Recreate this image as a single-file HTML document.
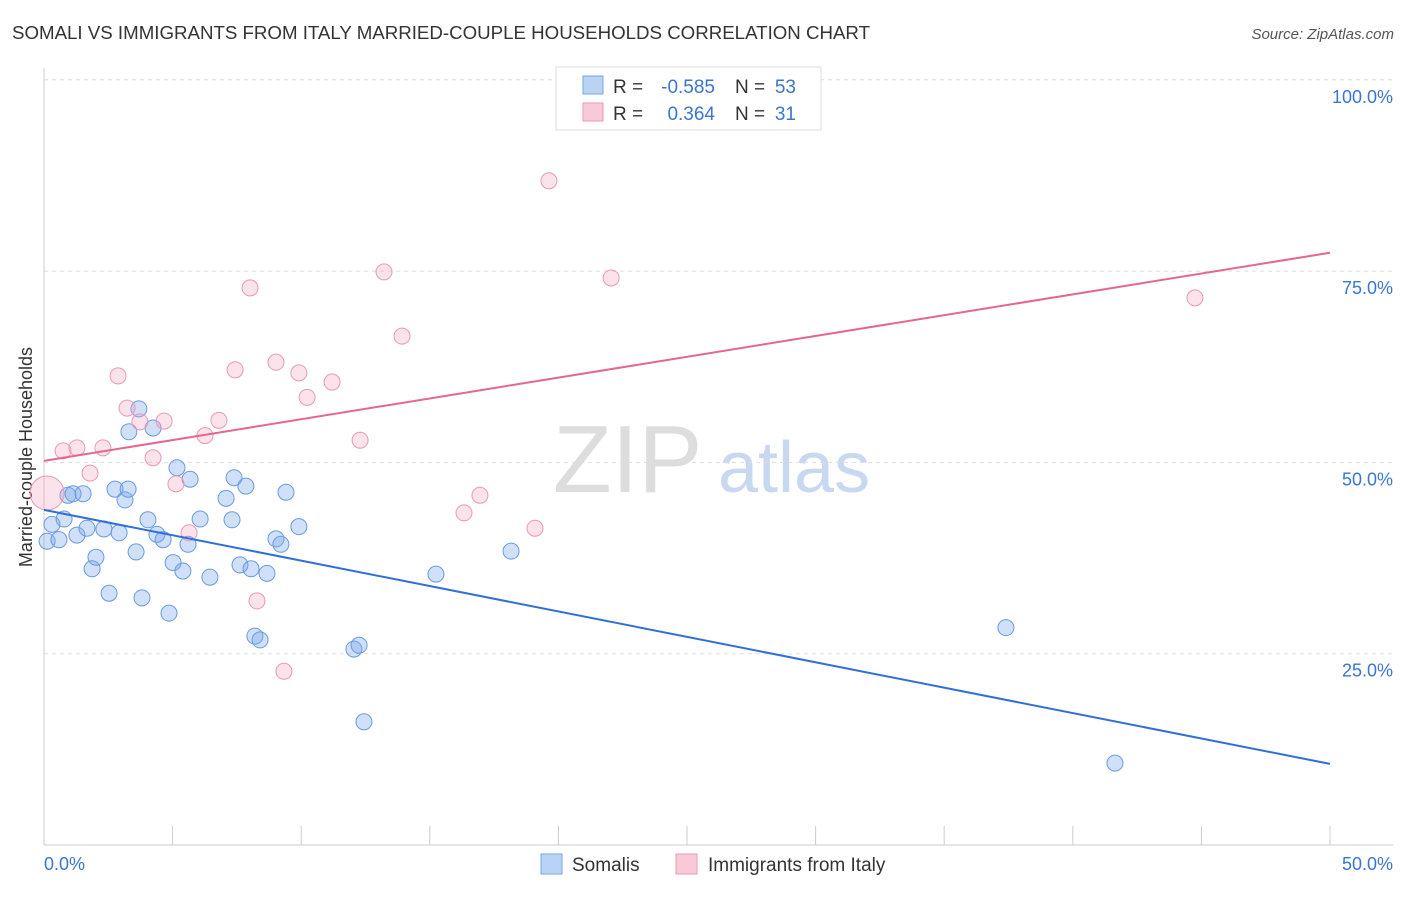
<!DOCTYPE html>
<html><head><meta charset="utf-8"><style>
body{margin:0;background:#fff;font-family:"Liberation Sans",sans-serif}
svg text{font-family:"Liberation Sans",sans-serif}
</style></head><body>
<svg id="c" width="1406" height="892">
<text x="12" y="39" font-size="18.7" fill="#333">SOMALI VS IMMIGRANTS FROM ITALY MARRIED-COUPLE HOUSEHOLDS CORRELATION CHART</text>
<text x="1394" y="39" font-size="15" fill="#555" text-anchor="end" font-style="italic">Source: ZipAtlas.com</text>
<text x="32" y="457" font-size="18" fill="#333" text-anchor="middle" transform="rotate(-90 32 457)">Married-couple Households</text>
<text x="553" y="492" font-size="96" fill="#ddd" font-family="Liberation Serif">ZIP</text>
<text x="718" y="492" font-size="72" fill="#c8d8f0">atlas</text>
<g id="grid"></g><g id="axes"></g><g id="pts"></g><g id="lines"></g>
<g>
<rect x="556" y="67" width="265" height="63" fill="#fff" stroke="#ddd"/>
<rect x="583" y="76" width="20" height="18" fill="#b9d3f5" stroke="#7aa6e0"/>
<rect x="583" y="103" width="20" height="18" fill="#f9c9d7" stroke="#e89ab4"/>
<text x="613" y="93" font-size="19" fill="#333">R =</text>
<text x="715" y="93" font-size="19" fill="#3a76d0" text-anchor="end">-0.585</text>
<text x="735" y="93" font-size="19" fill="#333">N =</text>
<text x="796" y="93" font-size="19" fill="#3a76d0" text-anchor="end">53</text>
<text x="613" y="120" font-size="19" fill="#333">R =</text>
<text x="715" y="120" font-size="19" fill="#3a76d0" text-anchor="end">0.364</text>
<text x="735" y="120" font-size="19" fill="#333">N =</text>
<text x="796" y="120" font-size="19" fill="#3a76d0" text-anchor="end">31</text>
</g>
<g>
<rect x="541" y="854" width="21" height="20" fill="#b9d3f5" stroke="#7aa6e0"/>
<text x="572" y="871" font-size="19" fill="#333">Somalis</text>
<rect x="676" y="854" width="21" height="20" fill="#f9c9d7" stroke="#e89ab4"/>
<text x="708" y="871" font-size="19" fill="#333">Immigrants from Italy</text>
</g>
</svg>
<script>
const yTicks=[25,50,75,100];
const yTickLabels=["25.0%","50.0%","75.0%","100.0%"];
const xTickVals=[0,5,10,15,20,25,30,35,40,45,50];
const blueX=[0.12,0.31,0.58,0.78,0.93,1.13,1.28,1.52,1.67,1.87,2.02,2.33,2.53,2.76,2.92,3.15,3.27,3.30,3.58,3.69,3.81,4.04,4.24,4.39,4.63,4.86,5.02,5.17,5.40,5.60,5.68,6.07,6.45,7.08,7.31,7.39,7.62,7.85,8.05,8.20,8.40,8.67,9.02,9.21,9.41,9.91,12.05,12.25,12.44,15.24,18.16,37.40,41.64];
const blueY=[39.7,41.9,39.9,42.6,45.7,45.9,40.5,45.9,41.4,36.1,37.6,41.3,32.9,46.5,40.8,45.1,46.5,54.0,38.3,57.0,32.3,42.5,54.5,40.6,39.9,30.3,36.9,49.3,35.8,39.3,47.8,42.6,35.0,45.3,42.5,48.0,36.6,46.9,36.1,27.3,26.8,35.5,40.0,39.3,46.1,41.6,25.6,26.1,16.1,35.4,38.4,28.4,10.7];
const pinkX=[0.12,0.74,1.28,1.79,2.29,2.88,3.23,3.73,4.24,4.67,5.13,5.64,6.26,6.80,7.43,8.01,8.28,9.02,9.33,9.91,10.23,11.20,12.29,13.22,13.92,16.33,16.95,19.09,19.63,22.05,44.75];
const pinkY=[46.0,51.5,51.9,48.6,51.9,61.3,57.1,55.3,50.6,55.4,47.2,40.8,53.5,55.5,62.1,72.8,31.9,63.1,22.7,61.7,58.5,60.5,52.9,74.9,66.5,43.4,45.7,41.4,86.8,74.1,71.5];
const blueTrend=[43.8,10.6];
const pinkTrend=[50.2,77.4];
const NS="http://www.w3.org/2000/svg";
const X=v=>44+v*25.72, Y=v=>845-v*7.652;
function mk(tag,attrs,parent){const e=document.createElementNS(NS,tag);for(const k in attrs)e.setAttribute(k,attrs[k]);document.getElementById(parent).appendChild(e);return e;}
yTicks.forEach((t,i)=>{
 const l=mk('line',{x1:44,x2:1393,y1:Y(t),y2:Y(t),stroke:'#ddd','stroke-dasharray':'4,4'},'grid');
 
 
 const tx=mk('text',{x:1393,y:Y(t)+23,'font-size':18,fill:'#3a76d0','text-anchor':'end'},'grid');
 tx.textContent=yTickLabels[i];
 
 
});
const ax=mk('line',{x1:44,x2:1393,y1:845,y2:845,stroke:'#ccc'},'axes');


const ay=mk('line',{x1:44,x2:44,y1:68,y2:845,stroke:'#ccc'},'axes');


xTickVals.forEach(t=>{
 const l=mk('line',{x1:X(t),x2:X(t),y1:826,y2:845,stroke:'#ccc'},'axes');
 
 
});
const xl0=mk('text',{x:44,y:870,'font-size':18,fill:'#3a76d0'},'axes');xl0.textContent='0.0%';


const xl1=mk('text',{x:1393,y:870,'font-size':18,fill:'#3a76d0','text-anchor':'end'},'axes');xl1.textContent='50.0%';


blueX.forEach((v,i)=>{
 const c=mk('circle',{cx:X(v),cy:Y(blueY[i]),r:8,fill:'rgba(120,165,235,0.35)',stroke:'#6a9be0','stroke-width':1},'pts');
 
 
});
pinkX.forEach((v,i)=>{
 const c=mk('circle',{cx:X(v),cy:Y(pinkY[i]),r:i===0?17:8,fill:'rgba(245,160,190,0.3)',stroke:'#e89ab4','stroke-width':1},'pts');
 
 
});
const bl=mk('line',{x1:X(0),y1:Y(blueTrend[0]),x2:X(50),y2:Y(blueTrend[1]),stroke:'#2f6fd6','stroke-width':2},'lines');


const pl=mk('line',{x1:X(0),y1:Y(pinkTrend[0]),x2:X(50),y2:Y(pinkTrend[1]),stroke:'#e4678f','stroke-width':2},'lines');


</script>
</body></html>
